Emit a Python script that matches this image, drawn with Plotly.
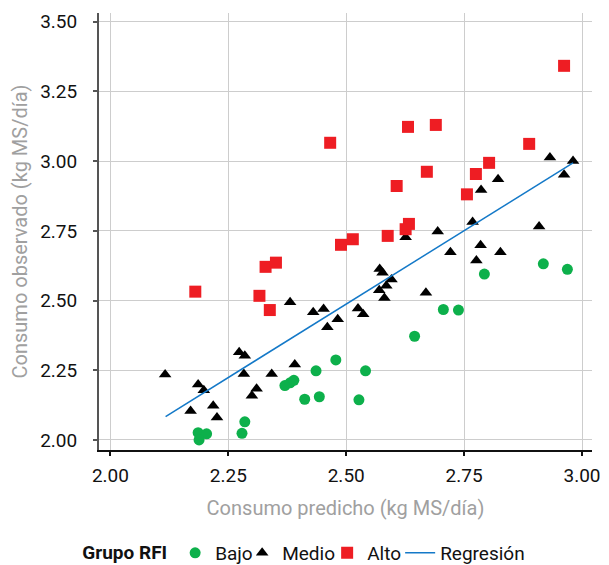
import plotly.graph_objects as go

# ---- data ----
bajo_x = [2.186, 2.204, 2.188, 2.285, 2.279, 2.370, 2.381, 2.389, 2.412, 2.443,
          2.436, 2.478, 2.527, 2.541, 2.645, 2.706, 2.738, 2.793, 2.918, 2.969]
bajo_y = [2.026, 2.022, 2.000, 2.065, 2.024, 2.195, 2.205, 2.214, 2.146, 2.155,
          2.248, 2.287, 2.144, 2.248, 2.372, 2.468, 2.466, 2.595, 2.632, 2.612]

medio_x = [2.116, 2.170, 2.186, 2.198, 2.218, 2.226, 2.273, 2.285, 2.283, 2.310,
           2.300, 2.342, 2.391, 2.381, 2.430, 2.452, 2.460, 2.482, 2.525, 2.536,
           2.570, 2.581, 2.585, 2.596, 2.571, 2.577, 2.626, 2.669, 2.694, 2.721,
           2.768, 2.776, 2.785, 2.827, 2.786, 2.822, 2.909, 2.932, 2.962, 2.981]
medio_y = [2.235, 2.104, 2.199, 2.178, 2.123, 2.081, 2.315, 2.302, 2.237, 2.184,
           2.159, 2.237, 2.271, 2.494, 2.458, 2.470, 2.404, 2.433, 2.472, 2.451,
           2.537, 2.509, 2.553, 2.576, 2.613, 2.600, 2.727, 2.528, 2.748, 2.673,
           2.782, 2.644, 2.698, 2.673, 2.897, 2.935, 2.766, 3.013, 2.951, 3.001]

alto_x = [2.180, 2.316, 2.329, 2.338, 2.351, 2.466, 2.489, 2.514, 2.588, 2.607,
          2.626, 2.631, 2.633, 2.671, 2.690, 2.756, 2.775, 2.803, 2.888, 2.962]
alto_y = [2.532, 2.517, 2.621, 2.466, 2.636, 3.066, 2.700, 2.720, 2.732, 2.911,
          2.756, 3.123, 2.775, 2.962, 3.130, 2.881, 2.954, 2.994, 3.062, 3.342]

reg_x = [2.117, 2.981]
reg_y = [2.084, 2.994]

x_ticks = [2.00, 2.25, 2.50, 2.75, 3.00]
y_ticks = [2.00, 2.25, 2.50, 2.75, 3.00, 3.25, 3.50]

FONT = "Roboto"

fig = go.Figure()
fig.add_trace(go.Scatter(x=bajo_x, y=bajo_y, mode="markers", name="Bajo", legendwidth=22,
                         marker=dict(symbol="circle", size=11, color="#0DB04B")))
fig.add_trace(go.Scatter(x=medio_x, y=medio_y, mode="markers", name="Medio", legendwidth=40,
                         marker=dict(symbol="triangle-up", size=11, color="#000000")))
fig.add_trace(go.Scatter(x=alto_x, y=alto_y, mode="markers", name="Alto", legendwidth=28,
                         marker=dict(symbol="square", size=12, color="#EE1D23")))
fig.add_trace(go.Scatter(x=reg_x, y=reg_y, mode="lines", name="Regresión",
                         line=dict(color="#1479C8", width=1.5)))

# page body has an 8px default margin, so the figure is 8px smaller than the window
fig.update_layout(
    width=601, height=557,
    margin=dict(l=91, r=17, t=5, b=115),
    paper_bgcolor="white", plot_bgcolor="white",
    font=dict(family=FONT, size=19, color="#111111"),
    legend=dict(orientation="h",
                xref="container", x=0.1203, xanchor="left",
                yref="container", y=0.0215, yanchor="middle",
                title=dict(text="<b>Grupo RFI</b>", font=dict(size=19, color="#111111")),
                font=dict(size=19, color="#111111"), itemwidth=30,
                tracegroupgap=0),
)
fig.update_xaxes(
    range=[1.9758, 3.0212], tickvals=x_ticks, tickformat=".2f",
    automargin=False,
    showgrid=True, gridcolor="#CDCDCD", gridwidth=1,
    showline=True, linecolor="#111111", linewidth=1.5,
    ticks="outside", ticklen=4, tickcolor="#111111", tickwidth=1.5,
    ticklabelstandoff=3,
    zeroline=False,
    tickfont=dict(family=FONT, size=19, color="#111111"),
    title=dict(text="Consumo predicho (kg MS/día)", standoff=15,
               font=dict(family=FONT, size=20, color="#A0A0A0")),
)
fig.update_yaxes(
    range=[1.964, 3.5315], tickvals=y_ticks, tickformat=".2f",
    automargin=False,
    showgrid=True, gridcolor="#CDCDCD", gridwidth=1,
    showline=True, linecolor="#555555", linewidth=2,
    ticks="outside", ticklen=4, tickcolor="#555555", tickwidth=1.5,
    ticklabelstandoff=12,
    zeroline=False,
    tickfont=dict(family=FONT, size=19, color="#111111"),
    title=dict(text="Consumo observado (kg MS/día)", standoff=17,
               font=dict(family=FONT, size=20, color="#A0A0A0")),
)

fig.write_html("out.html")
